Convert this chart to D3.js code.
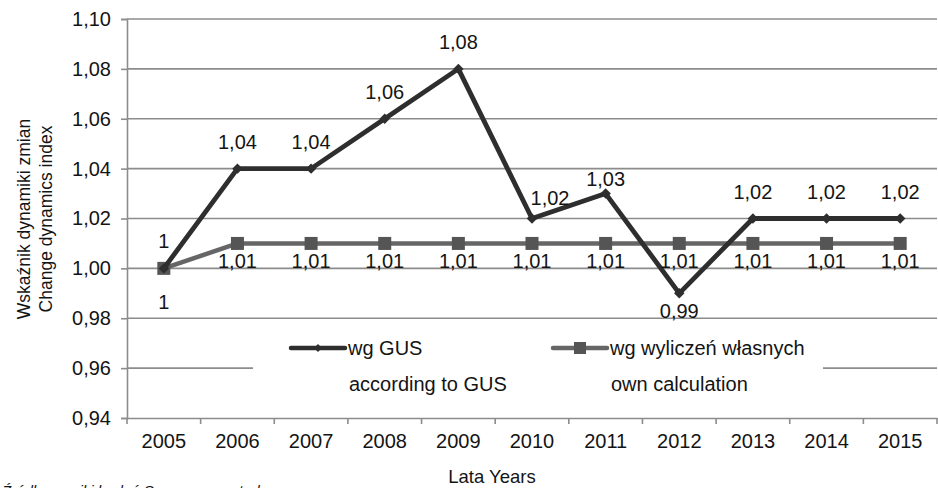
<!DOCTYPE html>
<html>
<head>
<meta charset="utf-8">
<script src="https://cdn.jsdelivr.net/npm/d3@7"></script>
<style>
  body { margin: 0; background: #fff; }
  svg { display: block; font-family: "Liberation Sans", Arial, sans-serif; }
</style>
</head>
<body>
<svg id="chart" width="938" height="488"></svg>
<script>
// data
const years = ["2005", "2006", "2007", "2008", "2009", "2010", "2011", "2012", "2013", "2014", "2015"];
const gusValues = [1, 1.04, 1.04, 1.06, 1.08, 1.02, 1.03, 0.99, 1.02, 1.02, 1.02];
const ownValues = [1, 1.01, 1.01, 1.01, 1.01, 1.01, 1.01, 1.01, 1.01, 1.01, 1.01];
const gusLabels = ["1", "1,04", "1,04", "1,06", "1,08", "1,02", "1,03", "0,99", "1,02", "1,02", "1,02"];
const ownLabels = ["1", "1,01", "1,01", "1,01", "1,01", "1,01", "1,01", "1,01", "1,01", "1,01", "1,01"];
const yTicks = [0.94, 0.96, 0.98, 1.00, 1.02, 1.04, 1.06, 1.08, 1.10];
const legendNames = [["wg GUS", "according to GUS"], ["wg wyliczeń własnych", "own calculation"]];

const fmt = v => d3.format(".2f")(v).replace(".", ",");

const plot = { left: 127, right: 937, top: 19, bottom: 418 };
const gridColor = "#8c8c8c";
const gusColor = "#2e2e2e";
const ownColor = "#666666";
const textColor = "#141414";

const svg = d3.select("#chart");

const x = d3.scaleBand().domain(years).range([plot.left, plot.right]).padding(0);
const y = d3.scaleLinear().domain([0.94, 1.10]).range([plot.bottom, plot.top]);
const cx = d => x(d) + x.bandwidth() / 2;

/*
 * gridlines
 */
svg.append("g")
  .selectAll("line")
  .data(yTicks.slice(1))
  .enter()
  .append("line")
  .attr("x1", plot.left)
  .attr("x2", plot.right)
  .attr("y1", d => y(d))
  .attr("y2", d => y(d))
  .attr("stroke", gridColor)
  .attr("stroke-width", 1.6);

/*
 * axes
 */
const yAxis = svg.append("g")
  .attr("transform", `translate(${plot.left},0)`)
  .call(d3.axisLeft(y).tickValues(yTicks).tickFormat(fmt).tickSize(6).tickPadding(10));

const xAxis = svg.append("g")
  .attr("transform", `translate(0,${plot.bottom})`)
  .call(d3.axisBottom(x).tickSize(0).tickPadding(16));

// band boundary ticks on x axis
xAxis.append("g")
  .selectAll("line")
  .data(years.concat(["end"]))
  .enter()
  .append("line")
  .attr("x1", (d, i) => plot.left + i * x.bandwidth())
  .attr("x2", (d, i) => plot.left + i * x.bandwidth())
  .attr("y1", 0)
  .attr("y2", 6)
  .attr("stroke", gridColor)
  .attr("stroke-width", 1.6);

[yAxis, xAxis].forEach(ax => {
  ax.select(".domain").attr("stroke", gridColor).attr("stroke-width", 1.6);
  ax.selectAll(".tick line").attr("stroke", gridColor).attr("stroke-width", 1.6);
  ax.selectAll(".tick text")
    .attr("fill", textColor)
    .style("font-size", "20px")
    .style("font-family", "'Liberation Sans', Arial, sans-serif");
});

/*
 * legend (white box over the 0,96 gridline)
 */
const legend = svg.append("g");
legend.append("rect")
  .attr("x", 253).attr("y", 330)
  .attr("width", 570).attr("height", 75)
  .attr("fill", "#fff");

const legendItems = [
  { x0: 291, color: gusColor, marker: "diamond", text: legendNames[0] },
  { x0: 553, color: ownColor, marker: "square", text: legendNames[1] }
];

legendItems.forEach(it => {
  legend.append("line")
    .attr("x1", it.x0).attr("x2", it.x0 + 54)
    .attr("y1", 348).attr("y2", 348)
    .attr("stroke", it.color)
    .attr("stroke-width", 4.5)
    .attr("stroke-linecap", "round");
  if (it.marker === "diamond") {
    legend.append("path")
      .attr("d", d3.symbol(d3.symbolDiamond2, 40)())
      .attr("transform", `translate(${it.x0 + 27},348)`)
      .attr("fill", it.color);
  } else {
    legend.append("rect")
      .attr("x", it.x0 + 21).attr("y", 342)
      .attr("width", 12).attr("height", 12)
      .attr("fill", "#555");
  }
  legend.append("text")
    .attr("x", it.x0 + 57).attr("y", 355)
    .style("font-size", "20px")
    .attr("fill", textColor)
    .text(it.text[0]);
  legend.append("text")
    .attr("x", it.x0 + 58).attr("y", 391)
    .style("font-size", "20px")
    .attr("fill", textColor)
    .text(it.text[1]);
});

/*
 * series lines
 */
const line = d3.line().x((d, i) => cx(years[i])).y(d => y(d));

svg.append("path")
  .datum(ownValues)
  .attr("d", line)
  .attr("fill", "none")
  .attr("stroke", ownColor)
  .attr("stroke-width", 4.5)
  .attr("stroke-linejoin", "round");

svg.append("g")
  .selectAll("rect")
  .data(ownValues)
  .enter()
  .append("rect")
  .attr("x", (d, i) => cx(years[i]) - 6.5)
  .attr("y", d => y(d) - 6.5)
  .attr("width", 13)
  .attr("height", 13)
  .attr("fill", "#555");

svg.append("path")
  .datum(gusValues)
  .attr("d", line)
  .attr("fill", "none")
  .attr("stroke", gusColor)
  .attr("stroke-width", 4.8)
  .attr("stroke-linejoin", "round");

svg.append("g")
  .selectAll("path")
  .data(gusValues)
  .enter()
  .append("path")
  .attr("d", d3.symbol(d3.symbolDiamond2, 70)())
  .attr("transform", (d, i) => `translate(${cx(years[i])},${y(d)})`)
  .attr("fill", gusColor);

/*
 * data labels
 */
// manual nudges as in the original (labels moved by hand)
const gusNudge = { "2010": [18, 6], "2011": [0, 12] };

svg.append("g")
  .selectAll("text")
  .data(gusValues)
  .enter()
  .append("text")
  .attr("x", (d, i) => cx(years[i]) + (gusNudge[years[i]] ? gusNudge[years[i]][0] : 0))
  .attr("y", (d, i) => {
    const n = gusNudge[years[i]] ? gusNudge[years[i]][1] : 0;
    // 0,99 sits below its point
    return years[i] === "2012" ? y(d) + 25 : y(d) - 20 + n;
  })
  .attr("text-anchor", "middle")
  .style("font-size", "20px")
  .attr("fill", textColor)
  .text((d, i) => gusLabels[i]);

svg.append("g")
  .selectAll("text")
  .data(ownValues)
  .enter()
  .append("text")
  .attr("x", (d, i) => cx(years[i]))
  .attr("y", (d, i) => y(d) + (i === 0 ? 41 : 25))
  .attr("text-anchor", "middle")
  .style("font-size", "20px")
  .attr("fill", textColor)
  .text((d, i) => ownLabels[i]);

/*
 * titles
 */
const yTitle = svg.append("g")
  .attr("transform", "translate(0,219) rotate(-90)")
  .attr("text-anchor", "middle")
  .style("font-size", "17.5px")
  .attr("fill", textColor);
yTitle.append("text").attr("x", 0).attr("y", 30).text("Wskaźnik dynamiki zmian");
yTitle.append("text").attr("x", 0).attr("y", 52).text("Change dynamics index");

svg.append("text")
  .attr("x", 492).attr("y", 483)
  .attr("text-anchor", "middle")
  .style("font-size", "18.5px")
  .attr("fill", textColor)
  .text("Lata  Years");

svg.append("text")
  .attr("x", 2).attr("y", 496)
  .style("font-size", "15px")
  .style("font-style", "italic")
  .attr("fill", textColor)
  .text("Źródło: wyniki badań    Source: own study");
</script>
</body>
</html>
